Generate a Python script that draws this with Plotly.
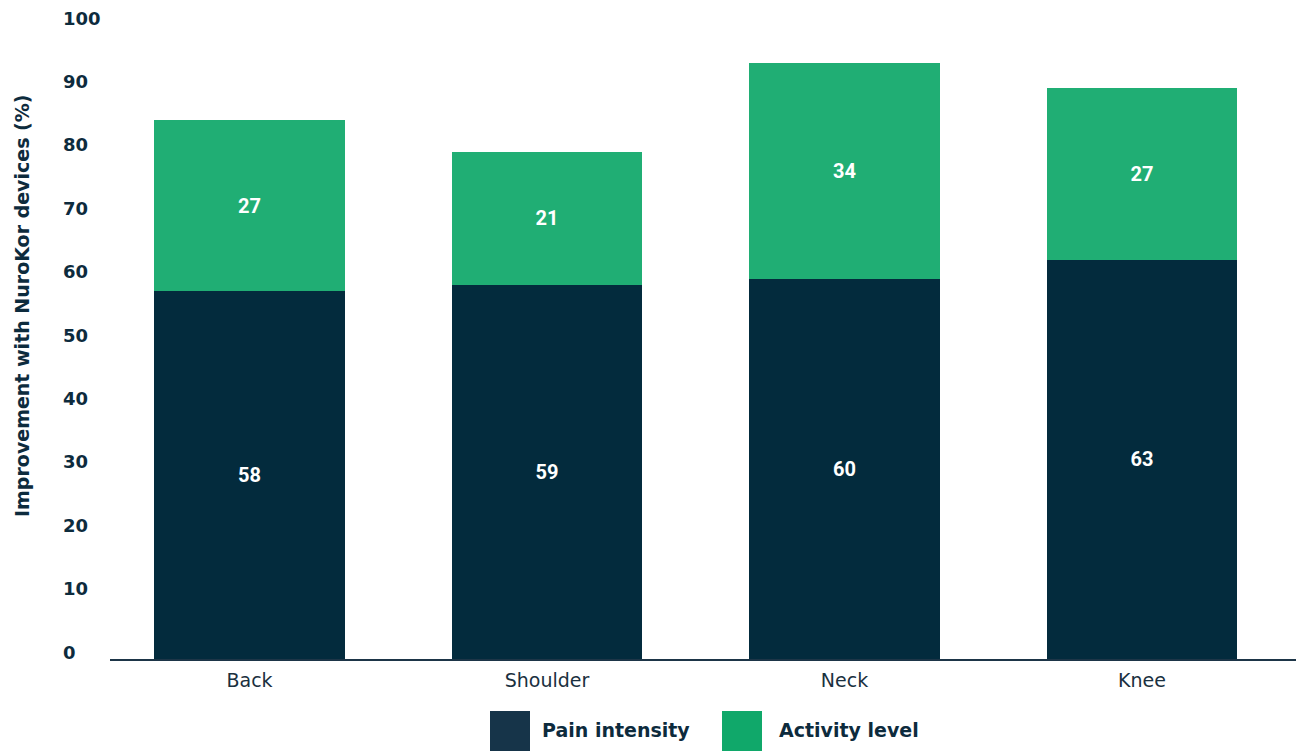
import plotly.graph_objects as go

# Data
regions = ["Back", "Shoulder", "Neck", "Knee"]
pain_intensity = [58, 59, 60, 63]
activity_level = [27, 21, 34, 27]
y_ticks = [0, 10, 20, 30, 40, 50, 60, 70, 80, 90, 100]

W, H = 1296, 751
ML, MR, MT, MB = 110, 0, 25, 92
PW, PH = W - ML - MR, H - MT - MB

DARK = "#032b3d"
GREEN = "#20ae74"
TEXT = "#0d2b3d"
FONT = "DejaVu Sans"
LABEL_FONT = "Roboto"


def px_x(px):
    return (px - ML) / PW


def px_y(py):
    return (H - MB - py) / PH


fig = go.Figure()
fig.add_trace(go.Bar(
    x=regions, y=pain_intensity, name="Pain intensity",
    marker=dict(color=DARK, line=dict(width=0)),
    text=pain_intensity, textposition="inside", insidetextanchor="middle",
    textfont=dict(color="white", size=20, family=LABEL_FONT, weight=700),
    showlegend=False,
))
fig.add_trace(go.Bar(
    x=regions, y=activity_level, name="Activity level",
    marker=dict(color=GREEN, line=dict(width=0)),
    text=activity_level, textposition="inside", insidetextanchor="middle",
    textfont=dict(color="white", size=20, family=LABEL_FONT, weight=700),
    showlegend=False,
))

annotations = []
# y tick labels, left aligned
for t in y_ticks:
    annotations.append(dict(
        x=px_x(61), xref="paper", xanchor="left",
        y=t, yref="y", yanchor="middle", yshift=7,
        text=str(t), showarrow=False,
        font=dict(size=18, color=TEXT, family=FONT, weight=700),
    ))
# y axis title
annotations.append(dict(
    x=px_x(22), xref="paper", xanchor="center",
    y=px_y(306), yref="paper", yanchor="middle",
    text="Improvement with NuroKor devices (%)", textangle=-90, showarrow=False,
    font=dict(size=19, color=TEXT, family=FONT, weight=700),
))

# legend
legend_items = [("Pain intensity", "#163449", 490, 540),
                ("Activity level", "#10a86a", 722, 777)]
shapes = []
for label, col, sx, tx in legend_items:
    shapes.append(dict(
        type="rect", xref="paper", yref="paper",
        x0=px_x(sx), x1=px_x(sx + 40), y0=px_y(751), y1=px_y(711),
        fillcolor=col, line=dict(width=0),
    ))
    annotations.append(dict(
        x=px_x(tx), xref="paper", xanchor="left",
        y=px_y(730), yref="paper", yanchor="middle",
        text=label, showarrow=False,
        font=dict(size=19, color=TEXT, family=FONT, weight=700),
    ))

fig.update_layout(
    width=W, height=H,
    margin=dict(l=ML, r=MR, t=MT, b=MB),
    barmode="stack", bargap=0.36,
    plot_bgcolor="white", paper_bgcolor="white",
    font=dict(family=FONT, color=TEXT),
    xaxis=dict(
        range=[-0.469, 3.518], showgrid=False, zeroline=False,
        showline=True, linecolor="#1d3547", linewidth=1.5,
        ticks="", tickfont=dict(size=19, color="#1a3040", family=FONT),
        ticklabelstandoff=3,
    ),
    yaxis=dict(
        range=[0, 100], showgrid=False, zeroline=False, showline=False,
        showticklabels=False, tickvals=y_ticks,
    ),
    annotations=annotations, shapes=shapes,
    uniformtext=dict(mode="show", minsize=10),
)

fig.write_html("out.html")
